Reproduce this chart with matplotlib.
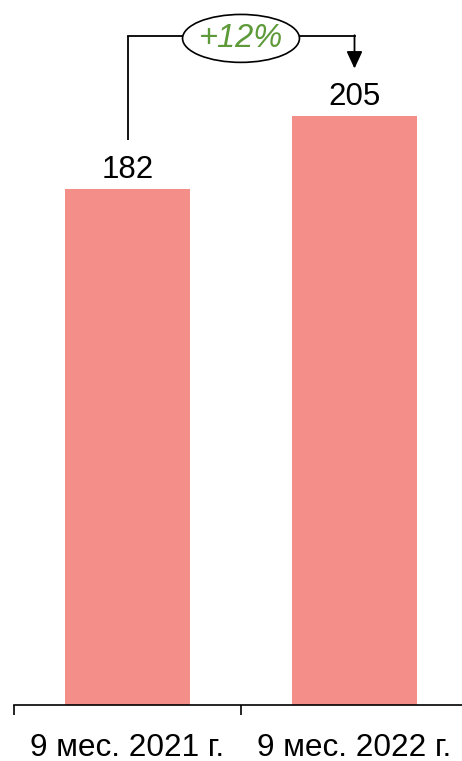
import matplotlib
matplotlib.use("Agg")
import matplotlib.pyplot as plt
from matplotlib.patches import Ellipse

categories = ["9 мес. 2021 г.", "9 мес. 2022 г."]
values = [182, 205]
change_label = "+12%"

plt.rcParams['font.family'] = ['Liberation Sans', 'DejaVu Sans']

fig = plt.figure(figsize=(4.62, 7.61), dpi=100)
ax = fig.add_axes([14/462, 56/761, 454/462, 705/761])

x = list(range(len(categories)))
bars = ax.bar(x, values, width=0.553, color='#F48E89', zorder=2)
ax.set_xlim(-0.5, 1.5)
ax.set_ylim(19.4, 241.5)

for s in ['top', 'right', 'left']:
    ax.spines[s].set_visible(False)
ax.spines['bottom'].set_linewidth(1.2)
ax.yaxis.set_visible(False)

ax.set_xticks([-0.5, 0.5, 1.5])
ax.set_xticklabels([])
ax.tick_params(axis='x', which='major', length=7.5, width=1.2, direction='out')
ax.set_xticks(x, minor=True)
ax.set_xticklabels(categories, minor=True, fontsize=22.7)
ax.tick_params(axis='x', which='minor', length=0, pad=20)

for xi, v in zip(x, values):
    ax.annotate(str(v), xy=(xi, v), xytext=(0, 8), textcoords='offset points',
                ha='center', va='baseline', fontsize=22.5, color='black')

# bracket
top_y = 230.2
off = 15.5
ax.plot([x[0], x[0]], [values[0] + off, top_y], color='black', lw=1.3, solid_capstyle='butt', zorder=3)
ax.plot([x[0], x[1]], [top_y, top_y], color='black', lw=1.3, zorder=3)
ax.annotate('', xy=(x[1], values[1] + off - 0.6), xytext=(x[1], top_y + 0.2),
            arrowprops=dict(arrowstyle='-|>,head_length=0.65,head_width=0.3', mutation_scale=16,
                            color='black', lw=1.3, shrinkA=0, shrinkB=0), zorder=3)
mid = (x[0] + x[1]) / 2
ell = Ellipse((mid, top_y - 0.8), width=0.515, height=15.1, facecolor='white',
              edgecolor='black', lw=1.2, zorder=4)
ax.add_patch(ell)
ax.text(mid, top_y - 0.8, change_label, ha='center', va='center', fontsize=23.5,
        style='italic', color='#5E9A3A', zorder=5)

fig.savefig('out.png', dpi=100)
